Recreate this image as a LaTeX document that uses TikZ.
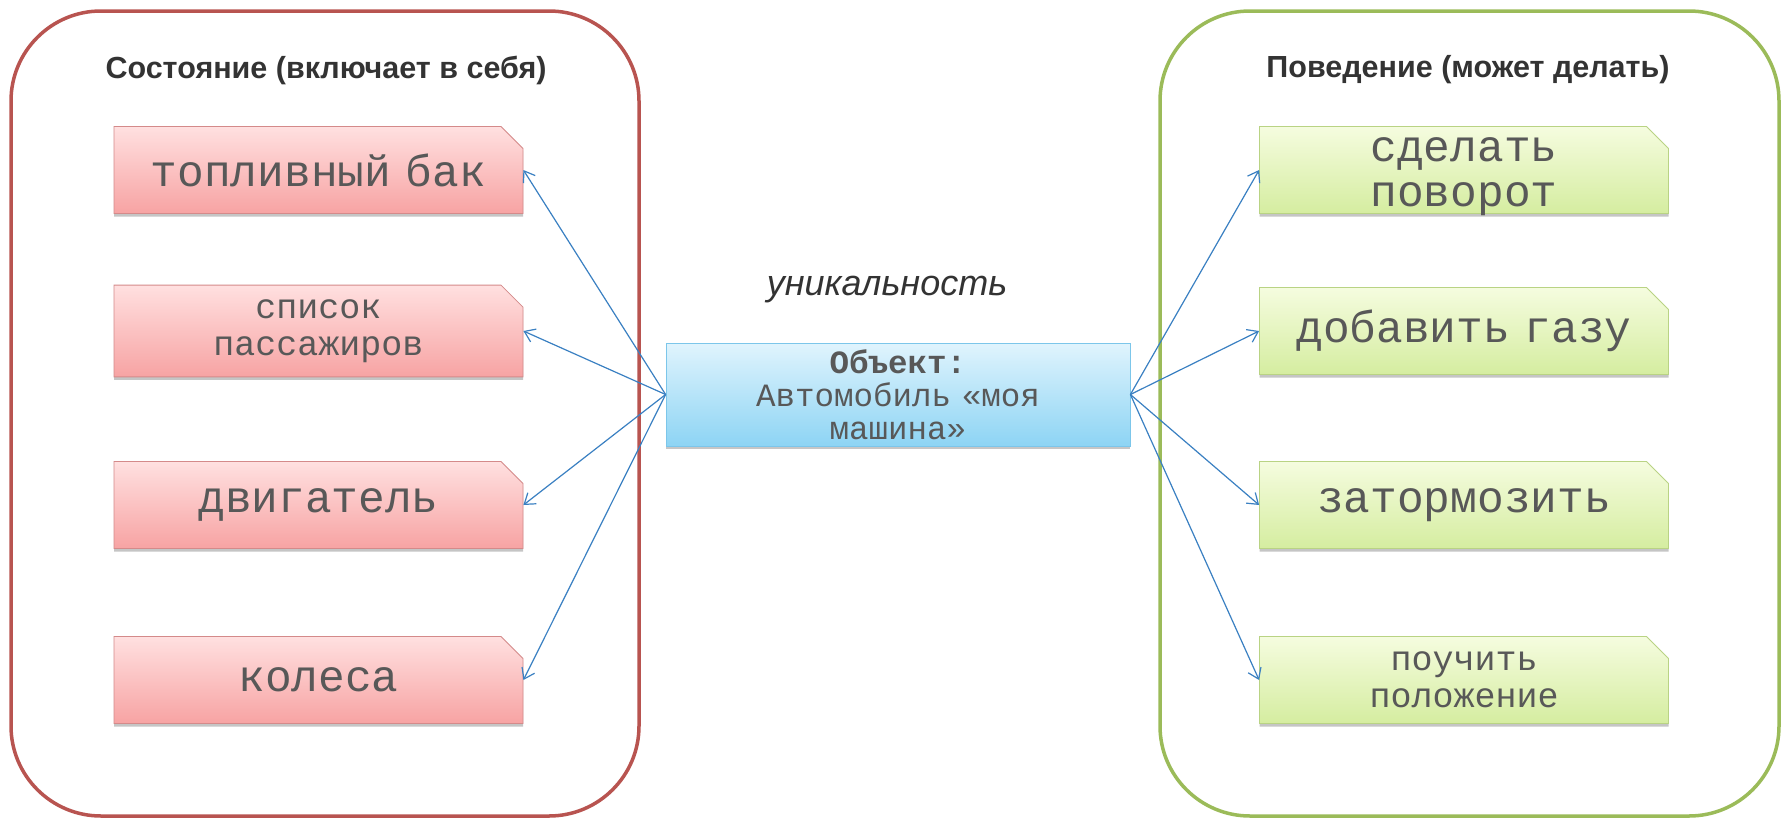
\documentclass[tikz,border=0pt]{standalone}
\usepackage{fontspec}
\setmainfont{Liberation Sans}
\newfontfamily\monofont{Liberation Mono}
\usetikzlibrary{positioning,arrows.meta,shapes.misc,shadows}
\definecolor{stateline}{HTML}{B85450}
\definecolor{behavline}{HTML}{9BBB59}
\definecolor{statetop}{HTML}{FFE0E0}
\definecolor{statebot}{HTML}{F7A3A3}
\definecolor{statedraw}{HTML}{D48A8A}
\definecolor{behavtop}{HTML}{F5FCDF}
\definecolor{behavbot}{HTML}{D5EDA0}
\definecolor{behavdraw}{HTML}{B9D384}
\definecolor{objtop}{HTML}{E0F4FD}
\definecolor{objbot}{HTML}{8DD4F4}
\definecolor{objdraw}{HTML}{7CC6EA}
\definecolor{link}{HTML}{3A80C2}
\definecolor{boxtext}{HTML}{585858}
\definecolor{headtext}{HTML}{333333}

\begin{document}
\begin{tikzpicture}[
  x=1pt, y=-1pt,
  >={Straight Barb[length=10pt,width=14pt]},
  group/.style={line width=3.5pt, rounded corners=90pt, fill=white},
  head/.style={font=\fontsize{30.5}{34}\selectfont\bfseries, text=headtext},
  item/.style={chamfered rectangle, chamfered rectangle corners=north east,
               chamfered rectangle xsep=11pt, chamfered rectangle ysep=11pt,
               line width=0.8pt, minimum width=409pt, minimum height=87pt,
               text width=380pt, align=center, text=boxtext,
               font=\fontsize{44.5}{42}\selectfont\monofont,
               drop shadow={opacity=0.45, shadow xshift=0pt, shadow yshift=-3pt}},
  small/.style={font=\fontsize{35}{37}\selectfont\monofont},
  state/.style={item, draw=statedraw, top color=statetop, bottom color=statebot},
  behav/.style={item, draw=behavdraw, top color=behavtop, bottom color=behavbot},
  obj/.style={draw=objdraw, line width=0.8pt, top color=objtop, bottom color=objbot,
              minimum width=464pt, minimum height=103pt, text width=440pt,
              align=center, text=boxtext, font=\fontsize{32.5}{33}\selectfont\monofont,
              drop shadow={opacity=0.45, shadow xshift=0pt, shadow yshift=-3pt}},
  link/.style={->, draw=link, line width=1.2pt},
]
\useasboundingbox (0,0) rectangle (1783,825);

\node[group, draw=stateline, minimum width=628pt, minimum height=805pt] (stategroup) at (325,413.5) {};
\node[group, draw=behavline, minimum width=619pt, minimum height=805pt] (behavgroup) at (1469.5,413.5) {};

\node[head] (statehead) at (326,70) {Состояние (включает в себя)};
\node[head] (behavhead) at (1468,70) {Поведение (может делать)};

\node[state] (tank) at (318.5,170) {топливный бак};
\node[state, small] (pass) at (318.5,331) {список\\пассажиров};
\node[state] (engine) at (318.5,505) {двигатель};
\node[state] (wheels) at (318.5,680) {колеса};

% two lines that overflow the box a little, as in the source
\node[behav] (turn) at (1464,170)
  {\raisebox{-26pt}{\smash{\parbox[c]{380pt}{\centering\baselineskip=45pt сделать\\поворот}}}};
\node[behav] (gas) at (1464,331) {добавить газу};
\node[behav] (brake) at (1464,505) {затормозить};
\node[behav, small] (pos) at (1464,680) {поучить\\положение};

\node[font=\fontsize{36}{40}\selectfont\itshape, text=headtext] (unique) at (887,290) {уникальность};

\node[obj] (car) at (898,394.5) {\textbf{Объект:}\\Автомобиль «моя\\машина»};

\foreach \n in {tank, pass, engine, wheels}
  \draw[link] (car.west) -- (\n.east);
\foreach \n in {turn, gas, brake, pos}
  \draw[link] (car.east) -- (\n.west);

\end{tikzpicture}
\end{document}
